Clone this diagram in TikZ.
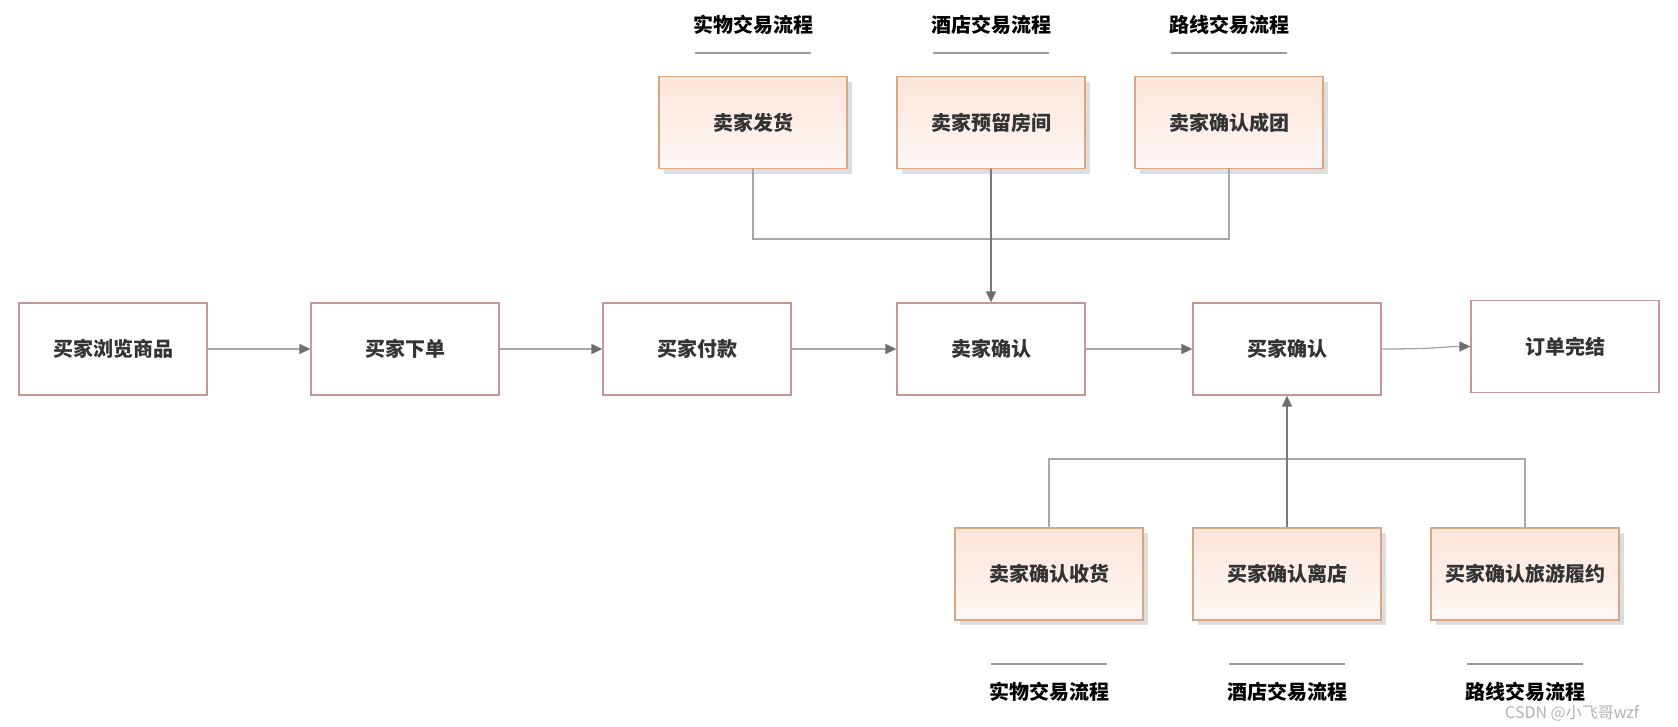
\documentclass[tikz,border=0pt]{standalone}
\usepackage{fontspec}
\setmainfont{Noto Sans CJK SC}
\newfontfamily\cjkfont{Noto Sans CJK SC}
\usetikzlibrary{arrows.meta,shadows,calc}
\definecolor{boxred}{HTML}{C49895}
\definecolor{boxor}{HTML}{D9A686}
\definecolor{subtop}{HTML}{FCE5D9}
\definecolor{subbot}{HTML}{FEF8F5}
\definecolor{txt}{HTML}{333333}
\definecolor{lnlight}{HTML}{A8A8A8}
\definecolor{lndark}{HTML}{7A7A7A}
\definecolor{tipc}{HTML}{6E6E6E}
\definecolor{sepc}{HTML}{999999}
\tikzset{
  mainbox/.style={draw=boxred, line width=1.3pt, minimum width=188pt, minimum height=92pt, text=txt, font=\cjkfont\bfseries\fontsize{20}{22}\selectfont, inner sep=0pt},
  subbox/.style={draw=boxor, line width=1.3pt, minimum width=188pt, minimum height=92pt, top color=subtop, bottom color=subbot, text=txt, font=\cjkfont\bfseries\fontsize{20}{22}\selectfont, inner sep=0pt,
    general shadow={fill=black!13, shadow xshift=5pt, shadow yshift=-5pt}},
  lbl/.style={text=black, font=\cjkfont\bfseries\fontsize{20}{22}\selectfont, inner sep=0pt},
  flow/.style={draw=lnlight, line width=1.3pt, -{Triangle[length=11pt,width=10pt,color=tipc]}},
  feed/.style={draw=lnlight, line width=1.3pt},
  feedarrow/.style={draw=lndark, line width=1.5pt, -{Triangle[length=11pt,width=10pt,color=tipc]}},
  sep/.style={draw=sepc, line width=1.5pt},
  wm/.style={text=black!30, font=\cjkfont\fontsize{16}{18}\selectfont, inner sep=0pt, anchor=west}
}
\begin{document}
\begin{tikzpicture}[x=1pt,y=-1pt]
\useasboundingbox (0,0) rectangle (1678,726);
% main row
\node[mainbox] (m1) at (113,349) {买家浏览商品};
\node[mainbox] (m2) at (405,349) {买家下单};
\node[mainbox] (m3) at (697,349) {买家付款};
\node[mainbox] (m4) at (991,349) {卖家确认};
\node[mainbox] (m5) at (1287,349) {买家确认};
\node[mainbox] (m6) at (1565,346.5) {订单完结};
% top sub boxes
\node[subbox] (t1) at (753,122.5) {卖家发货};
\node[subbox] (t2) at (991,122.5) {卖家预留房间};
\node[subbox] (t3) at (1229,122.5) {卖家确认成团};
% bottom sub boxes
\node[subbox] (b1) at (1049,574) {卖家确认收货};
\node[subbox] (b2) at (1287,574) {买家确认离店};
\node[subbox] (b3) at (1525,574) {买家确认旅游履约};
% top labels
\node[lbl] (lt1) at (753,25) {实物交易流程};
\node[lbl] (lt2) at (991,25) {酒店交易流程};
\node[lbl] (lt3) at (1229,25) {路线交易流程};
\draw[sep] ($(lt1)+(-58,28)$) -- ($(lt1)+(58,28)$);
\draw[sep] ($(lt2)+(-58,28)$) -- ($(lt2)+(58,28)$);
\draw[sep] ($(lt3)+(-58,28)$) -- ($(lt3)+(58,28)$);
% bottom labels
\node[lbl] (lb1) at (1049,692) {实物交易流程};
\node[lbl] (lb2) at (1287,692) {酒店交易流程};
\node[lbl] (lb3) at (1525,692) {路线交易流程};
\draw[sep] ($(lb1)+(-58,-28)$) -- ($(lb1)+(58,-28)$);
\draw[sep] ($(lb2)+(-58,-28)$) -- ($(lb2)+(58,-28)$);
\draw[sep] ($(lb3)+(-58,-28)$) -- ($(lb3)+(58,-28)$);
% main flow
\draw[flow] (m1.east) -- (m2.west);
\draw[flow] (m2.east) -- (m3.west);
\draw[flow] (m3.east) -- (m4.west);
\draw[flow] (m4.east) -- (m5.west);
\draw[flow] (m5.east) .. controls ($(m5.east)+(60,0)$) and ($(m6.west)+(-30,0)$) .. (m6.west);
% top feed
\coordinate (jt) at (991,239);
\draw[feed] (t1.south) |- (jt) -| (t3.south);
\draw[feedarrow] (t2.south) -- (m4.north);
% bottom feed
\coordinate (jb) at (1287,459);
\draw[feed] (b1.north) |- (jb) -| (b3.north);
\draw[feedarrow] (b2.north) -- (m5.south);
% watermark
\node[wm] (wmk) at (1505,713) {CSDN @小飞哥wzf};
\end{tikzpicture}
\end{document}
